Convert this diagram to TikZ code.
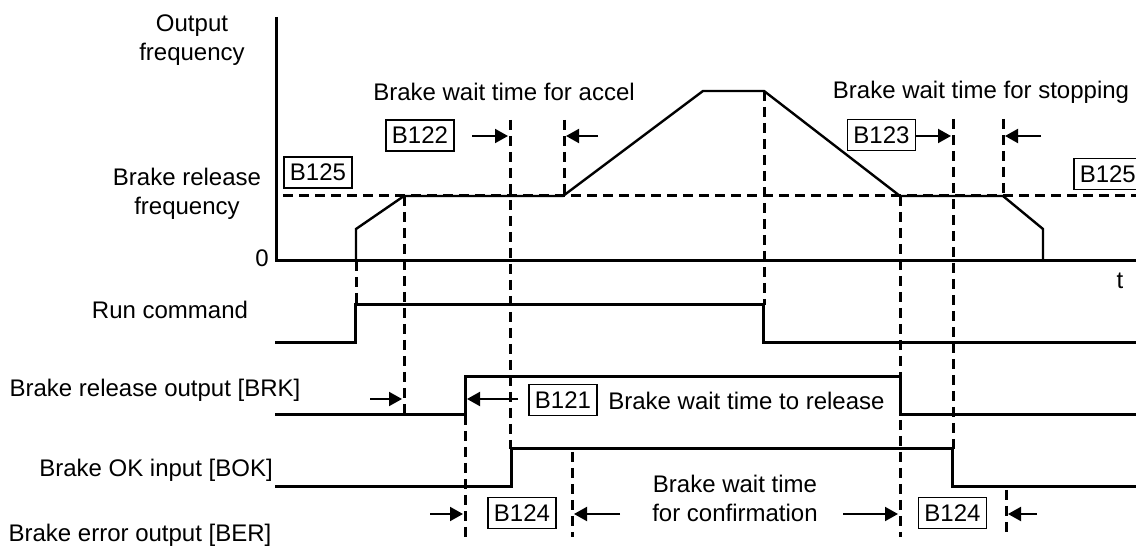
\documentclass[tikz,border=0pt]{standalone}
\usepackage{fontspec}
\setmainfont{Liberation Sans}
\usetikzlibrary{arrows.meta}

\begin{document}
\begin{tikzpicture}[x=0.5pt,y=-0.5pt,
      sig/.style={line width=1.5pt},
      ramp/.style={line width=1.2pt},
      dsh/.style={line width=1.5pt, dash pattern=on 5pt off 3pt},
      arr/.style={line width=1pt, -{Triangle[length=6.5pt,width=7pt]}},
      lbl/.style={font=\fontsize{12}{14.5}\selectfont, align=center, inner sep=0pt},
      par/.style={draw, line width=0.75pt, font=\fontsize{12}{14}\selectfont,
                  inner xsep=3pt, inner ysep=0pt, minimum height=15.5pt}]
    \clip (0,0) rectangle (1136,555);

    % row labels
    \node[lbl] (outf) at (192,40)  {Output\\frequency};
    \node[lbl] (brf)  at (187,194) {Brake release\\frequency};
    \node[lbl] (zero) at (262,258) {0};
    \node[lbl] (tax)  at (1120,281) {t};
    \node[lbl] (run)  at (170,310) {Run command};
    \node[lbl] (brk)  at (155,390) {Brake release output [BRK]};
    \node[lbl] (bok)  at (156,470) {Brake OK input [BOK]};
    \node[lbl] (ber)  at (140,535) {Brake error output [BER]};

    % parameter boxes and notes
    \node[par] (p125a) at (318,172.5) {B125};
    \node[par, anchor=west] (p125b) at (1073,174) {B125};
    \node[par] (p122) at (420,135.5) {B122};
    \node[par] (p123) at (881.5,135) {B123};
    \node[par] (p121) at (563,400) {B121};
    \node[par] (p124a) at (522,513) {B124};
    \node[par] (p124b) at (952.5,513) {B124};
    \node[lbl] (tacc) at (504,92) {Brake wait time for accel};
    \node[lbl] (tstp) at (981,92) {Brake wait time for stopping};
    \node[lbl, anchor=west] (trel) at (608,401) {Brake wait time to release};
    \node[lbl] (tcnf) at (735,498) {Brake wait time\\for confirmation};

    % timing marks
    \draw[dsh] (283,196) -- (1136,196);
    \foreach \x/\ya/\yb in {356/261/305, 404/196/413, 510/120/449, 564/120/196,
                            764/91/305, 900/196/537, 953/119/449, 1003/119/196,
                            465/415/537, 572/452/537, 1006/490/537}
      {\draw[dsh] (\x,\ya) -- (\x,\yb);}

    % axes and waveforms
    \draw[sig] (276,17) -- (276,261) -- (1136,261);
    \draw[ramp] (356,261) -- (356,229) -- (404,196) -- (563,196) -- (703,91)
                -- (764,91) -- (900,196) -- (1003,196) -- (1043,229) -- (1043,261);
    \draw[sig] (275,343) -- (355,343) -- (355,305) -- (763,305) -- (763,343) -- (1136,343);
    \draw[sig] (275,415) -- (465,415) -- (465,377) -- (900,377) -- (900,415) -- (1136,415);
    \draw[sig] (275,487) -- (511,487) -- (511,449) -- (952,449) -- (952,487) -- (1136,487);

    % wait time arrows
    \foreach \n/\xa/\xb/\y in {a/472/508/136, b/598/566/136, c/916/951/136, d/1041/1005/136,
                               e/370/402/399, f/518/467/399, g/430/463/514, h/620/574/514,
                               i/843/898/514, j/1037/1008/514}
      {\coordinate (\n s) at (\xa,\y);
       \coordinate (\n e) at (\xb,\y);
       \draw[arr] (\n s) -- (\n e);}
  \end{tikzpicture}
\end{document}
